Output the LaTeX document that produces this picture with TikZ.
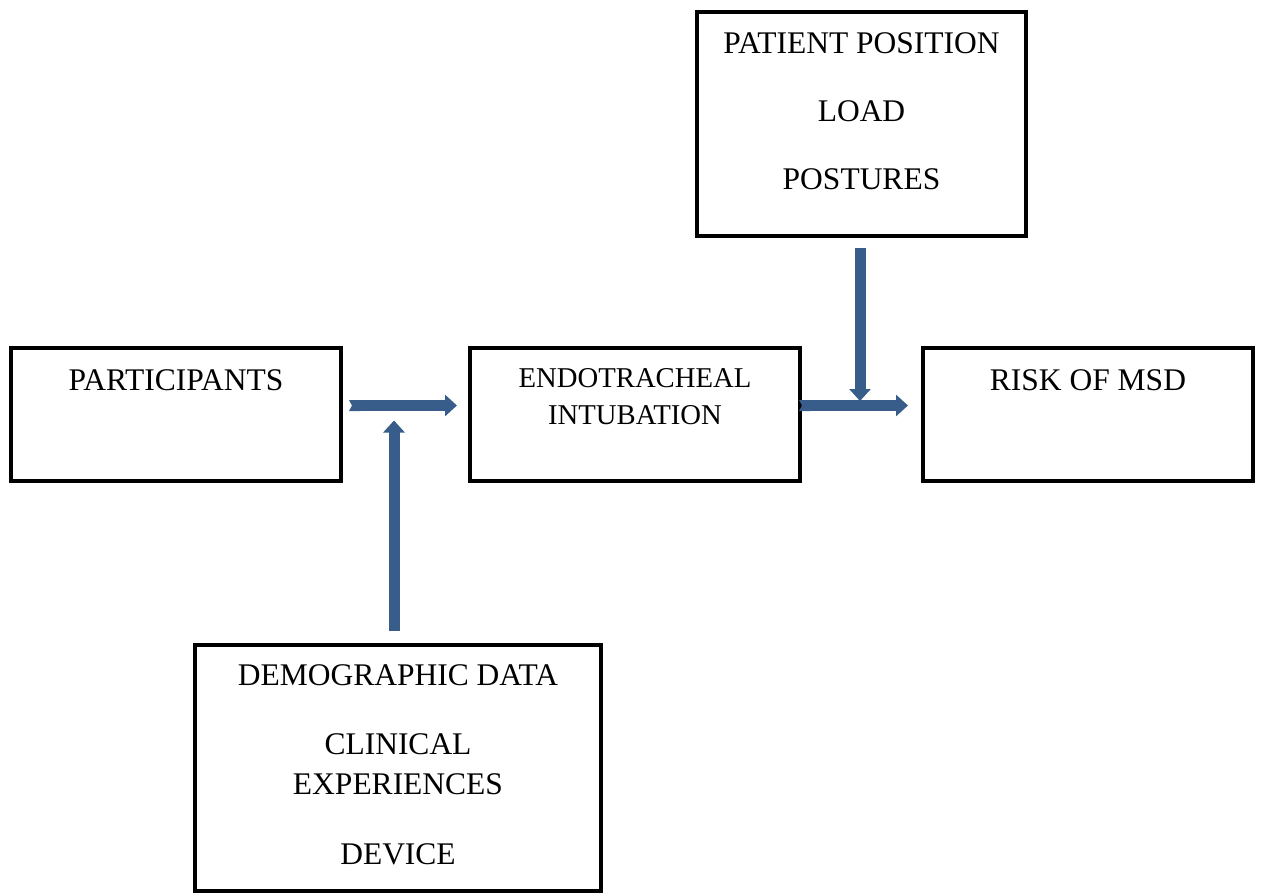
\documentclass[tikz,border=0pt]{standalone}
\usepackage{fontspec}
\setmainfont{Liberation Serif}
\usetikzlibrary{arrows.meta,positioning}
\definecolor{arrowblue}{RGB}{56,93,138}
\tikzset{
  box/.style     ={rectangle, draw=black, line width=4pt, inner sep=0pt,
                   minimum width=330pt, minimum height=133pt},
  txt/.style     ={anchor=base, inner sep=0pt, font=\fontsize{31.5}{36}\selectfont},
  smalltxt/.style={txt, font=\fontsize{28.7}{34}\selectfont},
  flow/.style    ={draw=arrowblue, line width=11pt, -{Triangle[width=21pt,length=12pt]}},
  notched/.style ={flow, {Triangle Cap[reversed,length=3pt]}-{Triangle[width=21pt,length=12pt]}},
}

\begin{document}
\begin{tikzpicture}[x=1pt,y=-1pt]
    \useasboundingbox (0,0) rectangle (1264,895);

    % boxes
    \node[box] (part) at (176,414.5) {};
    \node[box] (endo) at (635,414.5) {};
    \node[box] (risk) at (1088,414.5) {};
    \node[box, minimum width=329pt, minimum height=224pt] (pat) at (861.5,124) {};
    \node[box, minimum width=406pt, minimum height=246pt] (demo) at (398,768) {};

    % box texts
    \node[txt] (tpart) at (176,390) {PARTICIPANTS};
    \node[smalltxt] (tendo1) at (635,387) {ENDOTRACHEAL};
    \node[smalltxt] (tendo2) at (635,424) {INTUBATION};
    \node[txt] (trisk) at (1088,390) {RISK OF MSD};
    \foreach \t/\y in {PATIENT POSITION/53, LOAD/121, POSTURES/189}
      \node[txt] (tpat\y) at (861.5,\y) {\t};
    \foreach \t/\y in {DEMOGRAPHIC DATA/685, CLINICAL/754, EXPERIENCES/794, DEVICE/864}
      \node[txt] (tdemo\y) at (398,\y) {\t};

    % junctions
    \coordinate (jin)  at (394,405.5);
    \coordinate (jout) at (860,405.5);

    % arrows
    \draw[flow] ([yshift=12pt]demo.north -| jin) -- ([yshift=-15pt]jin);
    \draw[notched] ([xshift=6pt]part.east |- jin) -- ([xshift=-11pt]endo.west |- jin);
    \draw[flow] ([yshift=-10pt]pat.south -| jout) -- ([yshift=4.5pt]jout);
    \draw[notched] ([xshift=-3pt]endo.east |- jout) -- ([xshift=-13pt]risk.west |- jout);
\end{tikzpicture}
\end{document}
